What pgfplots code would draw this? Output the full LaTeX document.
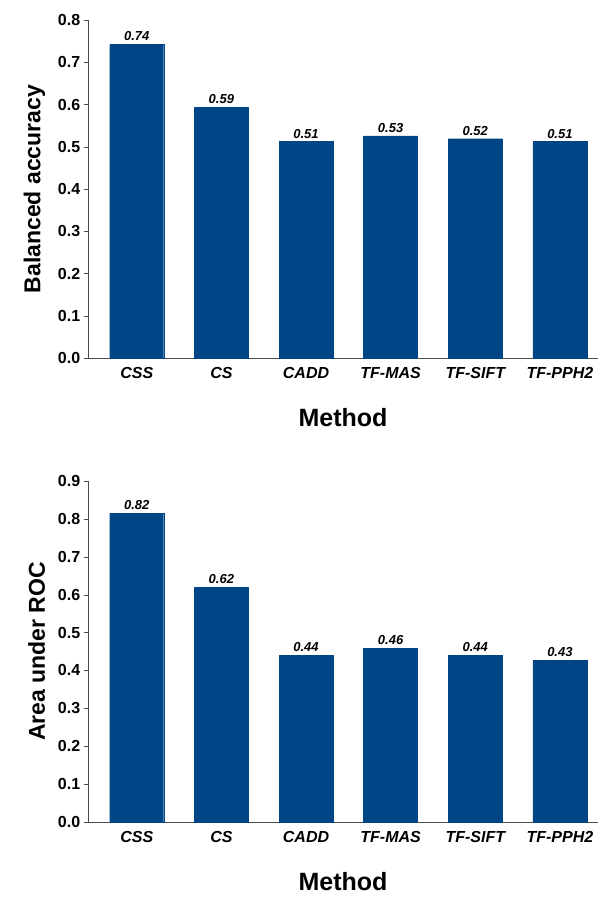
\documentclass[border=0pt]{standalone}
\usepackage{pgfplots}
\pgfplotsset{compat=1.18}
\usepackage{fontspec}
\setmainfont{Liberation Sans}
\definecolor{barblue}{HTML}{004586}
\pgfplotsset{
  mybar/.style={
    scale only axis, width=510pt,
    ybar, bar width=54pt,
    xmin=-0.576, xmax=5.45, ymin=0,
    axis lines=left, axis line style={-, black!70},
    xtick={0,...,5},
    xticklabels={CSS,CS,CADD,TF-MAS,TF-SIFT,TF-PPH2},
    xticklabel style={font=\fontsize{16}{16}\selectfont\bfseries\itshape, yshift=-2pt},
    yticklabel style={font=\fontsize{16}{16}\selectfont\bfseries},
    /pgf/number format/assume math mode=true,
    /pgf/number format/fixed, /pgf/number format/fixed zerofill, /pgf/number format/precision=1,
    xtick style={draw=none}, ytick style={black!70},
    tick align=outside,
    xlabel={Method},
    xlabel style={font=\fontsize{25}{25}\selectfont\bfseries, yshift=-22pt},
    ylabel style={font=\fontsize{23}{23}\selectfont\bfseries, yshift=6pt},
    nodes near coords,
    every node near coord/.append style={font=\fontsize{13}{13}\selectfont\bfseries\itshape, black,
      /pgf/number format/precision=2},
  }
}
\begin{document}
\begin{tikzpicture}
\path[use as bounding box] (0,0) rectangle (606pt,-898pt);
\begin{axis}[mybar, at={(88pt,-358pt)}, anchor=south west, height=338pt,
  ymax=0.8, ytick={0,0.1,...,0.8}, ylabel={Balanced accuracy}]
\addplot[fill=barblue, draw=barblue] coordinates {(0,0.742) (1,0.593) (2,0.512) (3,0.526) (4,0.519) (5,0.512)};
\end{axis}
\begin{axis}[mybar, at={(88pt,-822pt)}, anchor=south west, height=341pt,
  ymax=0.9, ytick={0,0.1,...,0.9}, ylabel={Area under ROC}]
\addplot[fill=barblue, draw=barblue] coordinates {(0,0.815) (1,0.620) (2,0.440) (3,0.458) (4,0.440) (5,0.426)};
\end{axis}
\end{tikzpicture}
\end{document}
